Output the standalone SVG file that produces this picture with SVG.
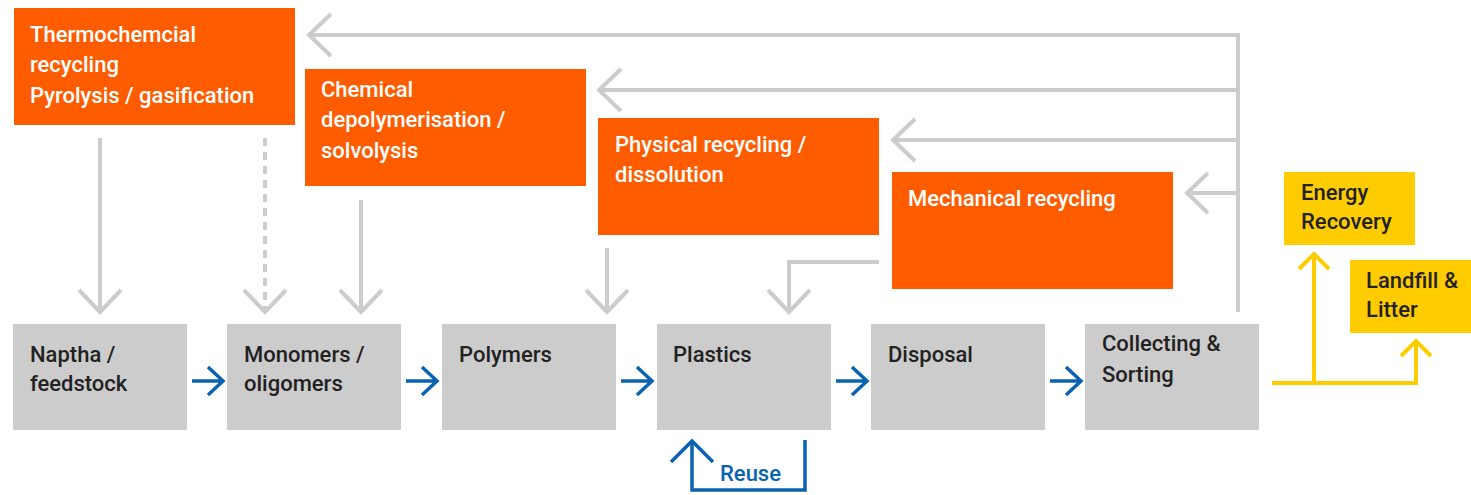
<svg xmlns="http://www.w3.org/2000/svg" width="1471" height="495" viewBox="0 0 1471 495">
<style>
.or{fill:#ff5c00}
.gr{fill:#cccccc}
.ye{fill:#ffcc00}
text{font-family:Roboto,"Liberation Sans",sans-serif;font-size:22px;font-weight:500}
.wt{fill:#ffffff}
.dk{fill:#222222}
.bl{fill:#0a63b0}
.cg{fill:none;stroke:#cccccc;stroke-width:4}
.cb{fill:none;stroke:#0a63b0;stroke-width:3.5}
.cy{fill:none;stroke:#ffcc00;stroke-width:4}
</style>
<rect width="1471" height="495" fill="#ffffff"/>
<g id="connectors">
<path class="cg" d="M1238,312 V35 H309"/>
<path class="cg" d="M331,14 L309,35 L331,56"/>
<path class="cg" d="M1238,90 H599"/>
<path class="cg" d="M621,69 L599,90 L621,111"/>
<path class="cg" d="M1238,140 H893"/>
<path class="cg" d="M915,119 L893,140 L915,161"/>
<path class="cg" d="M1238,193 H1187"/>
<path class="cg" d="M1208,173 L1187,193 L1208,213"/>
<path class="cg" d="M100,138 V312"/>
<path class="cg" d="M79,290 L100,312 L121,290"/>
<path class="cg" d="M265,138 V312" stroke-dasharray="8 6"/>
<path class="cg" d="M244,290 L265,312 L286,290"/>
<path class="cg" d="M361,200 V312"/>
<path class="cg" d="M340,290 L361,312 L382,290"/>
<path class="cg" d="M607,248 V312"/>
<path class="cg" d="M586,290 L607,312 L628,290"/>
<path class="cg" d="M879,262 H789 V312"/>
<path class="cg" d="M768,290 L789,312 L810,290"/>
<path class="cb" d="M192,381 H223 M208,367 L223,381 L208,395"/>
<path class="cb" d="M406,381 H437 M422,367 L437,381 L422,395"/>
<path class="cb" d="M621,381 H652 M637,367 L652,381 L637,395"/>
<path class="cb" d="M836,381 H867 M852,367 L867,381 L852,395"/>
<path class="cb" d="M1050,381 H1081 M1066,367 L1081,381 L1066,395"/>
<path class="cb" d="M805,440 V490 H692 V441"/>
<path class="cb" d="M671,462 L692,441 L713,462"/>
<path class="cy" d="M1272,383 H1416 V341"/>
<path class="cy" d="M1401,356 L1416,341 L1431,356"/>
<path class="cy" d="M1314,383 V254"/>
<path class="cy" d="M1299,269 L1314,254 L1329,269"/>
</g>
<g id="thermochemical">
<rect class="or" x="14" y="8" width="281" height="117"/>
<text class="wt" x="30" y="42">Thermochemcial</text>
<text class="wt" x="30" y="72">recycling</text>
<text class="wt" x="30" y="103">Pyrolysis / gasification</text>
</g>
<g id="chemical">
<rect class="or" x="305" y="69" width="281" height="117"/>
<text class="wt" x="321" y="97">Chemical</text>
<text class="wt" x="321" y="127">depolymerisation /</text>
<text class="wt" x="321" y="158">solvolysis</text>
</g>
<g id="physical">
<rect class="or" x="598" y="118" width="281" height="117"/>
<text class="wt" x="615" y="152">Physical recycling /</text>
<text class="wt" x="615" y="182">dissolution</text>
</g>
<g id="mechanical">
<rect class="or" x="892" y="172" width="281" height="117"/>
<text class="wt" x="908" y="206">Mechanical recycling</text>
</g>
<g id="naptha">
<rect class="gr" x="13" y="324" width="174" height="106"/>
<text class="dk" x="30" y="362">Naptha /</text>
<text class="dk" x="30" y="391">feedstock</text>
</g>
<g id="monomers">
<rect class="gr" x="227" y="324" width="174" height="106"/>
<text class="dk" x="244" y="362">Monomers /</text>
<text class="dk" x="244" y="391">oligomers</text>
</g>
<g id="polymers">
<rect class="gr" x="442" y="324" width="174" height="106"/>
<text class="dk" x="459" y="362">Polymers</text>
</g>
<g id="plastics">
<rect class="gr" x="657" y="324" width="174" height="106"/>
<text class="dk" x="673" y="362">Plastics</text>
</g>
<g id="disposal">
<rect class="gr" x="871" y="324" width="174" height="106"/>
<text class="dk" x="888" y="362">Disposal</text>
</g>
<g id="collecting">
<rect class="gr" x="1085" y="324" width="174" height="106"/>
<text class="dk" x="1102" y="351">Collecting &amp;</text>
<text class="dk" x="1102" y="382">Sorting</text>
</g>
<g id="reuse">
<text class="bl" x="720" y="481">Reuse</text>
</g>
<g id="energy">
<rect class="ye" x="1284" y="172" width="131" height="73"/>
<text class="dk" x="1301" y="200">Energy</text>
<text class="dk" x="1301" y="229">Recovery</text>
</g>
<g id="landfill">
<rect class="ye" x="1350" y="260" width="121" height="73"/>
<text class="dk" x="1366" y="288">Landfill &amp;</text>
<text class="dk" x="1366" y="317">Litter</text>
</g>
</svg>
